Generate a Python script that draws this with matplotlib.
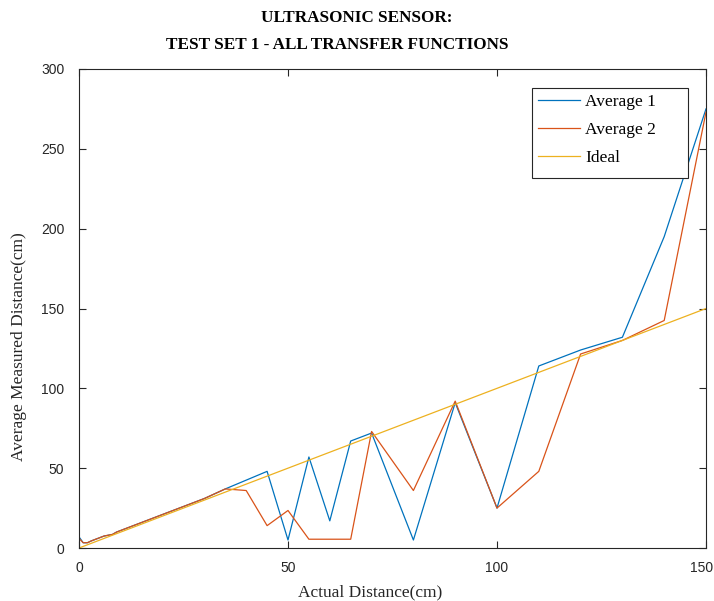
import numpy as np
import matplotlib
matplotlib.use('Agg')
import matplotlib.pyplot as plt
import matplotlib.transforms as mtransforms
from matplotlib.patches import Rectangle

# actual distance set points (cm)
distance = [0, 1, 2, 3, 4, 5, 6, 7, 8, 9, 10, 15, 20, 25, 30, 35, 40, 45,
            50, 55, 60, 65, 70, 80, 90, 100, 110, 120, 130, 140, 150]

# averaged sensor readings (cm)
average_1 = [7, 3.3, 3.3, 4.5, 5.5, 6.5, 7.5, 8, 8.5, 10, 11, 16, 21, 26, 31,
             37, 42.5, 48, 5, 57, 17, 67, 72, 5, 91, 25, 114, 124, 132, 195, 275]
average_2 = [6, 3.3, 3.3, 4.5, 5.5, 6.5, 7.5, 8, 8.5, 10, 11, 16, 21, 26, 31,
             37, 36, 14, 23.5, 5.5, 5.5, 5.5, 73, 36, 92, 25, 48, 121.5, 130, 142.5, 273]
ideal = distance

c_blue = '#0072BD'
c_orange = '#D95319'
c_yellow = '#EDB120'
axis_grey = '#262626'

serif = ['Liberation Serif', 'DejaVu Serif']
sans = ['Liberation Sans', 'DejaVu Sans']

W, H = 714, 601
fig = plt.figure(figsize=(W / 100, H / 100), dpi=100)
ax = fig.add_axes([79 / W, 1 - 548 / H, 627 / W, 479 / H])

ax.plot(distance, average_1, color=c_blue, lw=0.9, label='Average 1')
ax.plot(distance, average_2, color=c_orange, lw=0.9, label='Average 2')
ax.plot(distance, ideal, color=c_yellow, lw=0.9, label='Ideal')

ax.set_xlim(0, 150)
ax.set_ylim(0, 300)
ax.set_xticks([0, 50, 100, 150])
ax.set_yticks([0, 50, 100, 150, 200, 250, 300])
ax.tick_params(direction='in', top=True, right=True, length=5, width=0.8,
               color=axis_grey, labelcolor=axis_grey, labelsize=10)
ax.tick_params(axis='x', pad=9)
ax.tick_params(axis='y', pad=10.5)
for lab in ax.get_xticklabels() + ax.get_yticklabels():
    lab.set_family(sans)
# nudge the last x label so it stays on the canvas
last = ax.get_xticklabels()[-1]
last.set_transform(last.get_transform() +
                   mtransforms.ScaledTranslation(-4 / 100, 0, fig.dpi_scale_trans))
for sp in ax.spines.values():
    sp.set_color(axis_grey)
    sp.set_linewidth(0.8)

ax.set_xlabel('Actual Distance(cm)', family=serif, fontsize=12.5, color=axis_grey)
ax.set_ylabel('Average Measured Distance(cm)', family=serif, fontsize=12.5, color=axis_grey)
ax.xaxis.set_label_coords(0.464, -0.075)
ax.yaxis.set_label_coords(-0.083, 0.42)

fig.text(357 / W, 1 - 18 / H, 'ULTRASONIC SENSOR:', family=serif,
         fontweight='bold', fontsize=12.3, ha='center', va='center', color='black')
fig.text(337 / W, 1 - 45 / H, 'TEST SET 1 - ALL TRANSFER FUNCTIONS', family=serif,
         fontweight='bold', fontsize=12.3, ha='center', va='center', color='black')

# legend box with extra room on the right, like the MATLAB export
box = Rectangle((532 / W, 1 - 178 / H), 156 / W, 90 / H, transform=fig.transFigure,
                facecolor='white', edgecolor=axis_grey, lw=0.8, zorder=4, clip_on=False)
ax.add_patch(box)
leg = ax.legend(loc='upper left', bbox_to_anchor=(533 / W, 1 - 89 / H),
                bbox_transform=fig.transFigure, prop={'family': serif, 'size': 12.5},
                frameon=False, handlelength=2.4, handletextpad=0.3,
                labelspacing=0.68, borderpad=0.3, borderaxespad=0)
leg.set_zorder(5)

fig.savefig('out.png', dpi=100)
